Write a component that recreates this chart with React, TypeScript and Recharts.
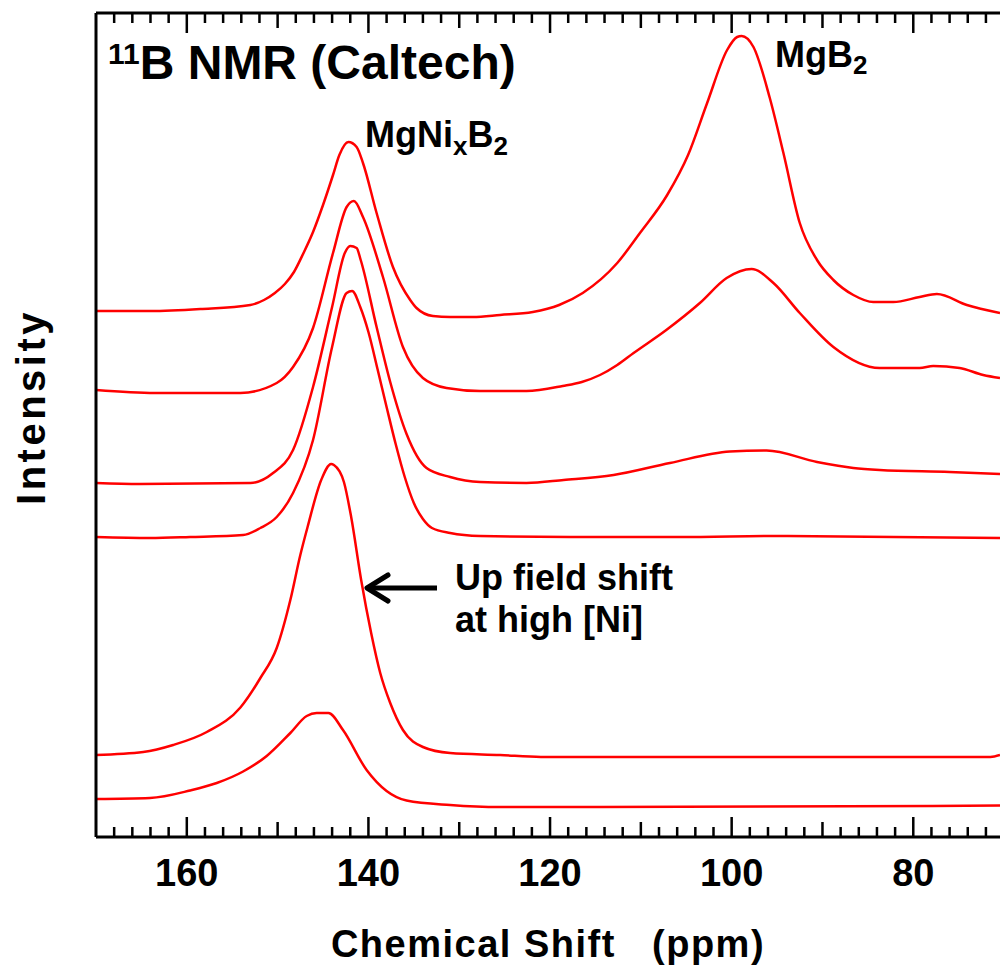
import React from 'react';
import { LineChart, Line, XAxis, YAxis } from 'recharts';

const FONT = '"Liberation Sans", Arial, Helvetica, sans-serif';

// Chemical shift (ppm) vs. stacked intensity (a.u.), top spectrum first
const trace1: [number, number][] = [
  [170, 526], [164, 526], [158.5, 528], [153, 532], [151.5, 537], [150.3, 544],
  [149.2, 553], [148.2, 565], [147.2, 583], [146.1, 605], [145, 632], [143.9, 662],
  [143.2, 682], [142.2, 695], [141.3, 690], [140.6, 674], [139.1, 624], [137.3, 570],
  [135.4, 537], [134.7, 529], [132.9, 521], [131, 520], [128.5, 520], [125.5, 522],
  [121.9, 525], [119, 532], [116.4, 544], [112.6, 574], [110.1, 604], [107.1, 642],
  [104.8, 682], [102.7, 734], [100.5, 787], [99.4, 800], [98.9, 801], [97.6, 790],
  [95.8, 739], [94.3, 684], [92.5, 614], [90.6, 577], [88.8, 557], [86.6, 542],
  [84.4, 535], [82.2, 535], [79.3, 540], [77.4, 543], [74.1, 532], [70.45, 524],
];

const trace2: [number, number][] = [
  [170, 447], [163.5, 444], [154.1, 444], [150.1, 454], [148.3, 470], [146.1, 509],
  [143.9, 584], [142.4, 630], [141.6, 636], [140.6, 620], [138.4, 560], [136.2, 490],
  [134, 459], [131.4, 449], [127.7, 446], [122.6, 446], [118.6, 451], [116.5, 455],
  [114.5, 462], [112.6, 472], [110.8, 484], [107.2, 507], [103.5, 534], [100.55, 559],
  [97.8, 568], [95.4, 554], [92.5, 524], [88.8, 490], [83.7, 469], [79.3, 469],
  [77.8, 471], [74.9, 469], [72.3, 462], [70.45, 459],
];

const trace3: [number, number][] = [
  [170, 354], [165.2, 353], [153, 354], [150.5, 364], [148.3, 387], [146.1, 450],
  [144, 530], [142.6, 584], [142, 591], [141.3, 589], [140.85, 577], [139.1, 510],
  [137.6, 455], [135.8, 403], [133.6, 369], [131, 360], [127.7, 355], [122.6, 354],
  [118.5, 357], [113, 362], [106.8, 374], [100.2, 385.5], [96.15, 386.5], [90.6, 375],
  [86.6, 369], [83.7, 367], [76, 365], [70.45, 363],
];

const trace4: [number, number][] = [
  [170, 300], [164.05, 299], [159.65, 300], [153.8, 302], [151.9, 309], [150.1, 320],
  [148.3, 344], [146.1, 397], [144, 490], [142.4, 544], [141.8, 546], [140.9, 530],
  [140, 505], [139, 468], [138, 430], [137, 393], [136, 360], [135, 334],
  [134, 318], [133, 309], [131, 304], [127.7, 301], [117.8, 300], [105.7, 300],
  [94.7, 301], [70.45, 299],
];

const trace5: [number, number][] = [
  [170, 82], [164.8, 85], [161.5, 92], [157.8, 105], [154.1, 129.5], [151.9, 159],
  [150.1, 189], [148.6, 237], [147.5, 282], [146.7, 310], [145.2, 357], [144.1, 373],
  [143.8, 372], [142.7, 355], [141.9, 320], [140.8, 257], [139.7, 204], [138.7, 164],
  [137.6, 134], [136.2, 107], [134, 90], [131, 84], [125.5, 82], [121, 80],
  [71.5, 80], [70.45, 82],
];

const trace6: [number, number][] = [
  [170, 38], [164.05, 39], [159.65, 46.5], [156.7, 54], [153.8, 65.5], [151.2, 81],
  [148.6, 104], [146.8, 121], [145.7, 124], [144.4, 124], [142.8, 107], [140.2, 67],
  [138, 46], [135.8, 36.5], [131, 32], [125.5, 30], [114.5, 30], [70.45, 31.5],
];

const traces = [trace1, trace2, trace3, trace4, trace5, trace6];

const xDomain: [number, number] = [70.45, 170];
const yDomain: [number, number] = [0, 824];
const labeledTicks = [160, 140, 120, 100, 80];
const allTicks = Array.from({ length: 49 }, (_, i) => 72 + 2 * i);

const CHART_W = 1000;
const CHART_H = 966;
const PLOT_LEFT = 96;
const PLOT_TOP = 13;
const TOP_AXIS_H = 24;
const PLOT_W = CHART_W - PLOT_LEFT;

const tickLen = (v: number) => (v % 20 === 0 ? 20 : v % 10 === 0 ? 15 : 10);

const BottomTick = (props: any) => {
  const { x, y, payload } = props;
  const v = Math.round(payload.value);
  return (
    <g>
      <rect x={x - 1.25} y={y - tickLen(v)} width={2.5} height={tickLen(v)} fill="#000" />
      {labeledTicks.includes(v) && (
        <text x={x} y={y + 49} textAnchor="middle" fontFamily={FONT} fontWeight="bold" fontSize={38} fill="#000">
          {v}
        </text>
      )}
    </g>
  );
};

// top axis is mirrored: its band overlaps the top of the plot, ticks hang downward from the frame line
const TopTick = (props: any) => {
  const { x, payload } = props;
  const v = Math.round(payload.value);
  return <rect x={x - 1.25} y={PLOT_TOP} width={2.5} height={tickLen(v)} fill="#000" />;
};

const XTitle = (props: any) => {
  const vb = props.viewBox || {};
  return (
    <text x={vb.x + vb.width / 2} y={vb.y + 120} textAnchor="middle" fontFamily={FONT} fontWeight="bold"
      fontSize={38} letterSpacing={1.5} fill="#000" style={{ whiteSpace: 'pre' }}>
      {'Chemical Shift   (ppm)'}
    </text>
  );
};

const YTitle = () => (
  <text x={45} y={407} transform="rotate(-90 45 407)" textAnchor="middle" fontFamily={FONT}
    fontWeight="bold" fontSize={40} letterSpacing={3.5} fill="#000">
    Intensity
  </text>
);

export default function App() {
  return (
    <div style={{ position: 'absolute', left: 0, top: 0, width: CHART_W, height: CHART_H, background: '#fff' }}>
      <LineChart width={CHART_W} height={CHART_H} margin={{ top: PLOT_TOP - 1, right: 0, bottom: 0, left: 0 }}>
        <XAxis xAxisId="bottom" type="number" dataKey="x" domain={xDomain} reversed allowDataOverflow
          ticks={allTicks} interval={0} tickSize={0} tickMargin={0} tickLine={false} tick={<BottomTick />}
          axisLine={{ stroke: '#000', strokeWidth: 3 }} height={129} label={<XTitle />} />
        <XAxis xAxisId="top" orientation="top" type="number" dataKey="x" domain={xDomain} reversed allowDataOverflow
          ticks={allTicks} interval={0} tickSize={0} tickMargin={0} tickLine={false} tick={<TopTick />}
          axisLine={{ stroke: '#000', strokeWidth: 3 }} height={1} />
        <YAxis type="number" domain={yDomain} width={PLOT_LEFT} tick={false} tickLine={false} allowDataOverflow
          axisLine={{ stroke: '#000', strokeWidth: 3 }} label={<YTitle />} />
        {traces.map((t, i) => (
          <Line key={i} xAxisId={i < 3 ? 'top' : 'bottom'} type="monotone" data={t.map(([x, y]) => ({ x, y }))}
            dataKey="y" stroke="#ff0000" strokeWidth={2.5} dot={false} isAnimationActive={false} />
        ))}
      </LineChart>
      <svg width={CHART_W} height={CHART_H} style={{ position: 'absolute', left: 0, top: 0, pointerEvents: 'none' }}>
        <text x={108} y={79} fontFamily={FONT} fontWeight="bold" fill="#000">
          <tspan fontSize={30} dy={-15}>11</tspan>
          <tspan fontSize={48} dy={15}>B NMR (Caltech)</tspan>
        </text>
        <text x={365} y={147} fontFamily={FONT} fontWeight="bold" fill="#000" fontSize={36}>
          <tspan>MgNi</tspan>
          <tspan fontSize={26} dy={8}>x</tspan>
          <tspan dy={-8}>B</tspan>
          <tspan fontSize={26} dy={8}>2</tspan>
        </text>
        <text x={775} y={67} fontFamily={FONT} fontWeight="bold" fill="#000" fontSize={36}>
          <tspan>MgB</tspan>
          <tspan fontSize={26} dy={7}>2</tspan>
        </text>
        <text x={455} y={590} fontFamily={FONT} fontWeight="bold" fill="#000" fontSize={36}>Up field shift</text>
        <text x={455} y={632} fontFamily={FONT} fontWeight="bold" fill="#000" fontSize={36}>at high [Ni]</text>
        <line x1={437} y1={588} x2={368} y2={588} stroke="#000" strokeWidth={5} />
        <polyline points="388,575 367,588 388,601" fill="none" stroke="#000" strokeWidth={5}
          strokeLinecap="round" strokeLinejoin="round" />
      </svg>
    </div>
  );
}
